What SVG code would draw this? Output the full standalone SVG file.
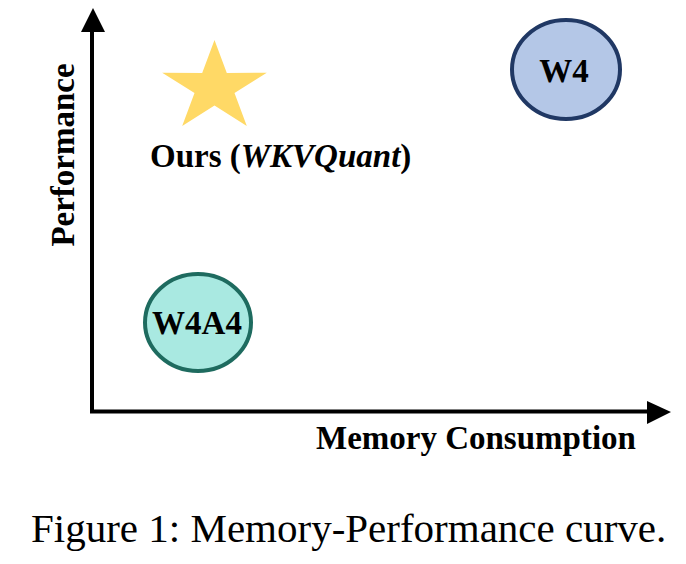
<svg xmlns="http://www.w3.org/2000/svg" width="686" height="564" viewBox="0 0 686 564">
  <style>
    .lbl { font-family: "Liberation Serif", "Times New Roman", serif; font-weight: bold; font-size: 33px; fill: #000; }
    .cap { font-family: "Liberation Serif", "Times New Roman", serif; font-size: 41px; fill: #000; }
    .axis { stroke: #000; stroke-width: 4; fill: none; }
    .head { fill: #000; }
  </style>
  <rect width="686" height="564" fill="#fff"/>
  <g id="connectors">
    <path class="axis" d="M92,413 V30"/>
    <polygon class="head" points="93,8 105,32 81,32"/>
    <path class="axis" d="M90,411.5 H649"/>
    <polygon class="head" points="671,412 647,401 647,424"/>
  </g>
  <g id="axis-labels">
    <text class="lbl" transform="translate(74,155) rotate(-90)" text-anchor="middle">Performance</text>
    <text class="lbl" x="316" y="449">Memory Consumption</text>
  </g>
  <g id="ours">
    <polygon fill="#FFD966" points="214.5,40 226.8,72.9 266.8,72.8 234.5,93.1 246.8,125.9 214.5,105.6 182.2,125.9 194.5,93.1 162.2,72.8 202.2,72.9"/>
    <text class="lbl" x="150" y="167">Ours (<tspan font-style="italic">WKVQuant</tspan>)</text>
  </g>
  <g id="w4">
    <ellipse cx="566" cy="69.5" rx="54" ry="49.5" fill="#B4C7E7" stroke="#203864" stroke-width="4"/>
    <text class="lbl" x="564" y="82" text-anchor="middle">W4</text>
  </g>
  <g id="w4a4">
    <ellipse cx="198" cy="322.5" rx="53" ry="48.5" fill="#A9E9E1" stroke="#1E6B5F" stroke-width="4"/>
    <text class="lbl" x="197" y="334" text-anchor="middle">W4A4</text>
  </g>
  <g id="caption">
    <text class="cap" x="31" y="542">Figure 1: Memory-Performance curve.</text>
  </g>
</svg>
